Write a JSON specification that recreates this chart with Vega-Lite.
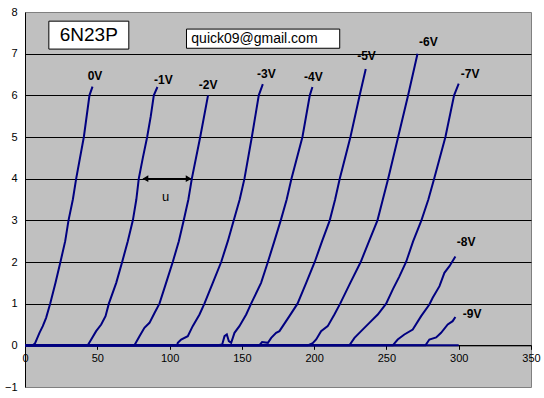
{
  "$schema": "https://vega.github.io/schema/vega-lite/v6.json",
  "width": 506,
  "height": 375,
  "autosize": {"type": "none"},
  "padding": {"left": 25, "top": 12, "right": 13, "bottom": 11},
  "background": "white",
  "config": {
    "view": {"fill": "#C0C0C0", "stroke": "#808080", "strokeWidth": 1},
    "font": "Liberation Sans"
  },
  "datasets": {
    "curves": [
      {"series": "0V", "v": 0, "i": 0}, {"series": "0V", "v": 5.4, "i": 0}, {"series": "0V", "v": 7, "i": 0.05}, {"series": "0V", "v": 10, "i": 0.3}, {"series": "0V", "v": 12.3, "i": 0.46}, {"series": "0V", "v": 14.6, "i": 0.66}, {"series": "0V", "v": 17.4, "i": 1.0}, {"series": "0V", "v": 21.1, "i": 1.5}, {"series": "0V", "v": 24.5, "i": 2.0}, {"series": "0V", "v": 27.8, "i": 2.5}, {"series": "0V", "v": 30.1, "i": 3.0}, {"series": "0V", "v": 33.1, "i": 3.5}, {"series": "0V", "v": 35.4, "i": 4.0}, {"series": "0V", "v": 40.7, "i": 5.0}, {"series": "0V", "v": 44.6, "i": 6.0}, {"series": "0V", "v": 46.7, "i": 6.21},
      {"series": "-1V", "v": 0, "i": 0}, {"series": "-1V", "v": 43.4, "i": 0}, {"series": "-1V", "v": 45.8, "i": 0.14}, {"series": "-1V", "v": 49.2, "i": 0.34}, {"series": "-1V", "v": 52.7, "i": 0.5}, {"series": "-1V", "v": 55.7, "i": 0.7}, {"series": "-1V", "v": 58, "i": 1.0}, {"series": "-1V", "v": 63.1, "i": 1.5}, {"series": "-1V", "v": 67.2, "i": 2.0}, {"series": "-1V", "v": 71.1, "i": 2.5}, {"series": "-1V", "v": 74.6, "i": 3.0}, {"series": "-1V", "v": 77, "i": 3.5}, {"series": "-1V", "v": 78.7, "i": 4.0}, {"series": "-1V", "v": 81.5, "i": 4.5}, {"series": "-1V", "v": 84.5, "i": 5.0}, {"series": "-1V", "v": 87, "i": 5.5}, {"series": "-1V", "v": 89.1, "i": 6.0}, {"series": "-1V", "v": 91.6, "i": 6.2},
      {"series": "-2V", "v": 0, "i": 0}, {"series": "-2V", "v": 75.7, "i": 0}, {"series": "-2V", "v": 79.2, "i": 0.22}, {"series": "-2V", "v": 82.6, "i": 0.42}, {"series": "-2V", "v": 86.1, "i": 0.54}, {"series": "-2V", "v": 89.5, "i": 0.77}, {"series": "-2V", "v": 93, "i": 1.0}, {"series": "-2V", "v": 97.6, "i": 1.5}, {"series": "-2V", "v": 102.2, "i": 2.0}, {"series": "-2V", "v": 106.4, "i": 2.5}, {"series": "-2V", "v": 109.8, "i": 3.0}, {"series": "-2V", "v": 113, "i": 3.5}, {"series": "-2V", "v": 115.4, "i": 4.0}, {"series": "-2V", "v": 121.2, "i": 5.0}, {"series": "-2V", "v": 126.6, "i": 6.0},
      {"series": "-3V", "v": 0, "i": 0}, {"series": "-3V", "v": 105.2, "i": 0}, {"series": "-3V", "v": 105.7, "i": 0.06}, {"series": "-3V", "v": 108, "i": 0.14}, {"series": "-3V", "v": 112.6, "i": 0.22}, {"series": "-3V", "v": 116, "i": 0.46}, {"series": "-3V", "v": 120.7, "i": 0.74}, {"series": "-3V", "v": 124.1, "i": 1.0}, {"series": "-3V", "v": 129.9, "i": 1.5}, {"series": "-3V", "v": 135.7, "i": 2.0}, {"series": "-3V", "v": 140.3, "i": 2.5}, {"series": "-3V", "v": 144.4, "i": 3.0}, {"series": "-3V", "v": 148.5, "i": 3.5}, {"series": "-3V", "v": 151.8, "i": 4.0}, {"series": "-3V", "v": 156.9, "i": 5.0}, {"series": "-3V", "v": 161.7, "i": 6.0}, {"series": "-3V", "v": 164.5, "i": 6.27},
      {"series": "-4V", "v": 0, "i": 0}, {"series": "-4V", "v": 133.3, "i": 0}, {"series": "-4V", "v": 136.4, "i": 0.02}, {"series": "-4V", "v": 138, "i": 0.22}, {"series": "-4V", "v": 139.6, "i": 0.26}, {"series": "-4V", "v": 141, "i": 0.1}, {"series": "-4V", "v": 142.6, "i": 0.06}, {"series": "-4V", "v": 144.9, "i": 0.3}, {"series": "-4V", "v": 148.3, "i": 0.46}, {"series": "-4V", "v": 153, "i": 0.74}, {"series": "-4V", "v": 156.4, "i": 1.0}, {"series": "-4V", "v": 163.3, "i": 1.5}, {"series": "-4V", "v": 168, "i": 2.0}, {"series": "-4V", "v": 172.5, "i": 2.5}, {"series": "-4V", "v": 176.9, "i": 3.0}, {"series": "-4V", "v": 181, "i": 3.5}, {"series": "-4V", "v": 184.3, "i": 4.0}, {"series": "-4V", "v": 191.9, "i": 5.0}, {"series": "-4V", "v": 197, "i": 6.0}, {"series": "-4V", "v": 198.8, "i": 6.2},
      {"series": "-5V", "v": 0, "i": 0}, {"series": "-5V", "v": 162, "i": 0}, {"series": "-5V", "v": 164, "i": 0.08}, {"series": "-5V", "v": 168, "i": 0.06}, {"series": "-5V", "v": 170.3, "i": 0.18}, {"series": "-5V", "v": 173.7, "i": 0.3}, {"series": "-5V", "v": 176, "i": 0.34}, {"series": "-5V", "v": 182.9, "i": 0.7}, {"series": "-5V", "v": 188.5, "i": 1.0}, {"series": "-5V", "v": 194.5, "i": 1.5}, {"series": "-5V", "v": 200.4, "i": 2.0}, {"series": "-5V", "v": 205.5, "i": 2.5}, {"series": "-5V", "v": 210.8, "i": 3.0}, {"series": "-5V", "v": 214.5, "i": 3.5}, {"series": "-5V", "v": 217.7, "i": 4.0}, {"series": "-5V", "v": 225.1, "i": 5.0}, {"series": "-5V", "v": 231.5, "i": 6.0}, {"series": "-5V", "v": 235.7, "i": 6.63},
      {"series": "-6V", "v": 0, "i": 0}, {"series": "-6V", "v": 195.6, "i": 0}, {"series": "-6V", "v": 199, "i": 0.05}, {"series": "-6V", "v": 201.4, "i": 0.14}, {"series": "-6V", "v": 204.8, "i": 0.34}, {"series": "-6V", "v": 209.4, "i": 0.46}, {"series": "-6V", "v": 214, "i": 0.74}, {"series": "-6V", "v": 218, "i": 1.0}, {"series": "-6V", "v": 225, "i": 1.5}, {"series": "-6V", "v": 232.2, "i": 2.0}, {"series": "-6V", "v": 238, "i": 2.5}, {"series": "-6V", "v": 243.8, "i": 3.0}, {"series": "-6V", "v": 247.5, "i": 3.5}, {"series": "-6V", "v": 251.2, "i": 4.0}, {"series": "-6V", "v": 258.1, "i": 5.0}, {"series": "-6V", "v": 265, "i": 6.0}, {"series": "-6V", "v": 271.5, "i": 7.0},
      {"series": "-7V", "v": 0, "i": 0}, {"series": "-7V", "v": 224.4, "i": 0}, {"series": "-7V", "v": 227.9, "i": 0.18}, {"series": "-7V", "v": 232.5, "i": 0.34}, {"series": "-7V", "v": 238.2, "i": 0.54}, {"series": "-7V", "v": 244, "i": 0.74}, {"series": "-7V", "v": 249.8, "i": 1.0}, {"series": "-7V", "v": 254.5, "i": 1.35}, {"series": "-7V", "v": 258.9, "i": 1.65}, {"series": "-7V", "v": 263.6, "i": 2.0}, {"series": "-7V", "v": 268.5, "i": 2.5}, {"series": "-7V", "v": 274.2, "i": 3.0}, {"series": "-7V", "v": 279, "i": 3.5}, {"series": "-7V", "v": 283, "i": 4.0}, {"series": "-7V", "v": 290.8, "i": 5.0}, {"series": "-7V", "v": 296.8, "i": 6.0}, {"series": "-7V", "v": 300, "i": 6.28},
      {"series": "-8V", "v": 0, "i": 0}, {"series": "-8V", "v": 254.4, "i": 0}, {"series": "-8V", "v": 257.8, "i": 0.14}, {"series": "-8V", "v": 262.4, "i": 0.26}, {"series": "-8V", "v": 268.2, "i": 0.38}, {"series": "-8V", "v": 274, "i": 0.7}, {"series": "-8V", "v": 279.7, "i": 0.98}, {"series": "-8V", "v": 282, "i": 1.14}, {"series": "-8V", "v": 286.7, "i": 1.42}, {"series": "-8V", "v": 290.1, "i": 1.74}, {"series": "-8V", "v": 293.6, "i": 1.9}, {"series": "-8V", "v": 297.7, "i": 2.13},
      {"series": "-9V", "v": 0, "i": 0}, {"series": "-9V", "v": 277, "i": 0}, {"series": "-9V", "v": 279.7, "i": 0.14}, {"series": "-9V", "v": 284.4, "i": 0.19}, {"series": "-9V", "v": 287.8, "i": 0.3}, {"series": "-9V", "v": 292.4, "i": 0.5}, {"series": "-9V", "v": 295.8, "i": 0.58}, {"series": "-9V", "v": 297.7, "i": 0.68},
      {"series": "-10V", "v": 0, "i": 0}, {"series": "-10V", "v": 300, "i": 0}
    ],
    "labels": [
      {"label": "0V", "v": 48.4, "i": 6.47},
      {"label": "-1V", "v": 95.7, "i": 6.37},
      {"label": "-2V", "v": 126.7, "i": 6.25},
      {"label": "-3V", "v": 167, "i": 6.51},
      {"label": "-4V", "v": 199.5, "i": 6.45},
      {"label": "-5V", "v": 236.2, "i": 6.95},
      {"label": "-6V", "v": 279, "i": 7.27},
      {"label": "-7V", "v": 307.9, "i": 6.52},
      {"label": "-8V", "v": 305.1, "i": 2.47},
      {"label": "-9V", "v": 309.3, "i": 0.75}
    ]
  },
  "layer": [
    {
      "data": {"name": "curves"},
      "mark": {"type": "line", "color": "#000080", "strokeWidth": 2},
      "encoding": {
        "x": {
          "field": "v", "type": "quantitative",
          "scale": {"domain": [0, 350], "nice": false, "zero": false},
          "axis": {
            "values": [0, 50, 100, 150, 200, 250, 300, 350],
            "offset": -41.67, "grid": false, "title": null,
            "domainColor": "black", "tickColor": "black", "tickSize": 4,
            "labelFontSize": 11, "labelColor": "black", "labelFlush": false,
            "labelPadding": 3, "labelFont": "Liberation Sans"
          }
        },
        "y": {
          "field": "i", "type": "quantitative",
          "scale": {"domain": [-1, 8], "nice": false, "zero": false},
          "axis": {
            "values": [-1, 0, 1, 2, 3, 4, 5, 6, 7, 8],
            "title": null, "ticks": false, "domainColor": "black",
            "labelPadding": 8, "labelFontSize": 11, "labelColor": "black",
            "labelFont": "Liberation Sans", "labelFlush": false,
            "grid": true, "gridColor": "black", "gridWidth": 1,
            "gridOpacity": {"condition": {"test": "datum.value < 0 || datum.value > 7", "value": 0}, "value": 1}
          }
        },
        "detail": {"field": "series", "type": "nominal"}
      }
    },
    {
      "data": {"name": "labels"},
      "mark": {"type": "text", "fontWeight": "bold", "fontSize": 12, "color": "black", "font": "Liberation Sans"},
      "encoding": {
        "x": {"field": "v", "type": "quantitative"},
        "y": {"field": "i", "type": "quantitative"},
        "text": {"field": "label"}
      }
    },
    {
      "data": {"values": [{}]},
      "mark": {"type": "rect", "fill": "white", "stroke": "black", "strokeWidth": 1},
      "encoding": {
        "x": {"datum": 16.5, "type": "quantitative"},
        "x2": {"datum": 71.8},
        "y": {"datum": 7.78, "type": "quantitative"},
        "y2": {"datum": 7.11}
      }
    },
    {
      "data": {"values": [{}]},
      "mark": {"type": "text", "fontSize": 19, "color": "black", "font": "Liberation Sans", "text": "6N23P"},
      "encoding": {
        "x": {"datum": 44.1, "type": "quantitative"},
        "y": {"datum": 7.44, "type": "quantitative"}
      }
    },
    {
      "data": {"values": [{}]},
      "mark": {"type": "rect", "fill": "white", "stroke": "black", "strokeWidth": 1},
      "encoding": {
        "x": {"datum": 111.7, "type": "quantitative"},
        "x2": {"datum": 217.7},
        "y": {"datum": 7.59, "type": "quantitative"},
        "y2": {"datum": 7.13}
      }
    },
    {
      "data": {"values": [{}]},
      "mark": {"type": "text", "fontSize": 14, "color": "black", "font": "Liberation Sans", "text": "quick09@gmail.com"},
      "encoding": {
        "x": {"datum": 158.7, "type": "quantitative"},
        "y": {"datum": 7.36, "type": "quantitative"}
      }
    },
    {
      "data": {"values": [{}]},
      "mark": {"type": "rule", "color": "black", "strokeWidth": 1.5},
      "encoding": {
        "x": {"datum": 82, "type": "quantitative"},
        "x2": {"datum": 114.5},
        "y": {"datum": 4, "type": "quantitative"}
      }
    },
    {
      "data": {"values": [{}]},
      "mark": {"type": "point", "shape": "triangle-left", "filled": true, "color": "black", "size": 45, "opacity": 1},
      "encoding": {
        "x": {"datum": 83.3, "type": "quantitative"},
        "y": {"datum": 4, "type": "quantitative"}
      }
    },
    {
      "data": {"values": [{}]},
      "mark": {"type": "point", "shape": "triangle-right", "filled": true, "color": "black", "size": 45, "opacity": 1},
      "encoding": {
        "x": {"datum": 113.2, "type": "quantitative"},
        "y": {"datum": 4, "type": "quantitative"}
      }
    },
    {
      "data": {"values": [{}]},
      "mark": {"type": "text", "fontSize": 13, "color": "black", "font": "Liberation Sans", "text": "u"},
      "encoding": {
        "x": {"datum": 97.2, "type": "quantitative"},
        "y": {"datum": 3.57, "type": "quantitative"}
      }
    }
  ]
}
